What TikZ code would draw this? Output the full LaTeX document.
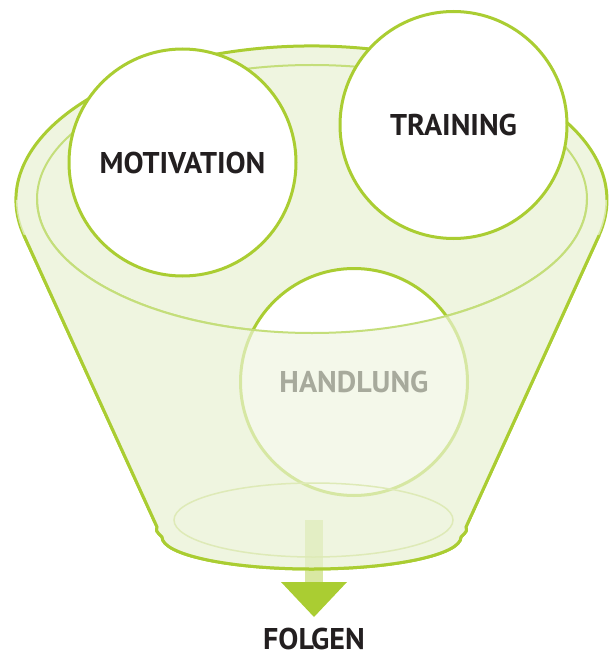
\documentclass[tikz,border=0pt]{standalone}
\usepackage{fontspec}
\setmainfont{PT Sans}

\definecolor{leafgreen}{RGB}{170,205,50}
\definecolor{rimgreen}{RGB}{196,222,122}
\definecolor{funnelfill}{RGB}{239,245,224}
\definecolor{basering}{RGB}{222,234,183}
\definecolor{inkdark}{RGB}{35,31,32}

\tikzset{
  bubble/.style={circle, draw=leafgreen, line width=3pt, fill=white,
    minimum size=227pt, inner sep=0pt, text=inkdark, font=\wordfont},
  funnelline/.style={draw=leafgreen, line width=3pt, line join=round},
  rimline/.style={draw=rimgreen, line width=2pt},
}
\newcommand{\wordfont}{\bfseries\fontsize{30}{30}\selectfont}

\begin{document}
\begin{tikzpicture}[x=1pt,y=1pt,yscale=-1,xscale=1]
\useasboundingbox (0,0) rectangle (614,655);

%Shape: funnel body with outline
\path[fill=funnelfill, funnelline] (157,527) -- (23.9,235.4) arc[start angle=166.7, end angle=373.3, x radius=295.5, y radius=154] -- (466,527) .. controls (467,531) .. (461,537) arc[start angle=0, end angle=180, x radius=149.5, y radius=32] .. controls (156,531) .. (157,527) -- cycle;

%Shape: inner rim
\draw[rimline] (312,199) ellipse[x radius=275, y radius=134];

% Bubble Nodes
\node[bubble] (motivation) at (182.5,162.5) {MOTIVATION};
\node[bubble] (training) at (453.5,125) {TRAINING};
\node[bubble] (handlung) at (354,382) {HANDLUNG};

%Shape: arrow shaft, seen through the wall
\fill[leafgreen, opacity=0.45] (305,520) rectangle (323,582);

%Shape: front wall of the funnel
\fill[funnelfill, opacity=0.65] (37,199) arc[start angle=180, end angle=0, x radius=275, y radius=134] -- (607,200) arc[start angle=0, end angle=13.3, x radius=295.5, y radius=154] -- (466,527) .. controls (467,531) .. (461,537) arc[start angle=0, end angle=180, x radius=149.5, y radius=32] .. controls (156,531) .. (157,527) -- (23.9,235.4) arc[start angle=166.7, end angle=180, x radius=295.5, y radius=154] -- cycle;

%Shape: front edge of the rim and the base ring
\draw[rimline] (37,199) arc[start angle=180, end angle=0, x radius=275, y radius=134];
\draw[draw=basering, line width=1.5pt] (313.5,520) ellipse[x radius=139.5, y radius=37];

%Shape: sides and bottom on top
\path[funnelline] (23.9,235.4) -- (157,527) .. controls (156,531) .. (162,537) arc[start angle=180, end angle=0, x radius=149.5, y radius=32] .. controls (467,531) .. (466,527) -- (599.1,235.4);

%Shape: arrow head
\fill[leafgreen] (281,582) -- (347,582) -- (314,617) -- cycle;

% Text Node
\node[text=inkdark, font=\wordfont, inner sep=0pt] (folgen) at (314,639) {FOLGEN};
\end{tikzpicture}
\end{document}
